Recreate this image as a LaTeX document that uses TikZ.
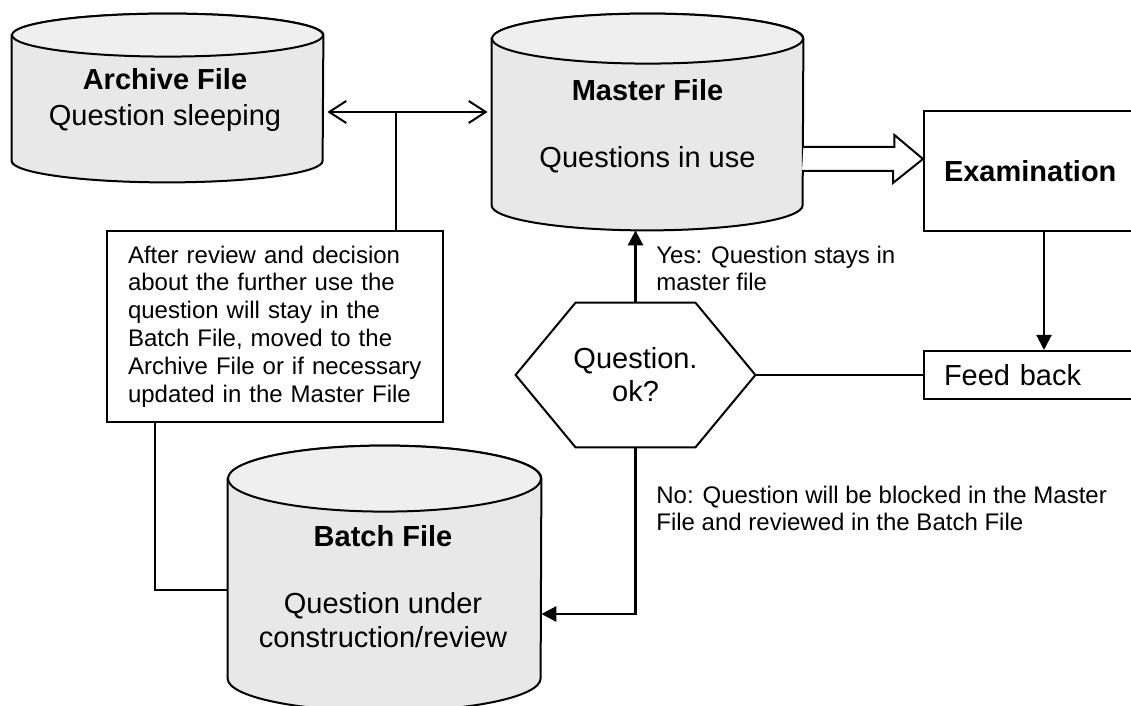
\documentclass[tikz,border=0pt]{standalone}
\usepackage{fontspec}
\setmainfont{Liberation Sans}
\usepackage{tikz}
\usetikzlibrary{arrows.meta}
\definecolor{drumgray}{HTML}{E8E8E8}
\definecolor{drumlid}{HTML}{EFEFEF}
\tikzset{
  drumnode/.style={rectangle,draw=none,inner sep=0pt},
  drum/.style={draw=black,line width=1pt,fill=drumgray},
  drumtop/.style={draw=black,line width=1pt,fill=drumlid},
  big/.style={font=\fontsize{14.5}{18}\selectfont,align=center},
  note/.style={font=\fontsize{12}{13.9}\selectfont,align=left},
  box/.style={draw=black,line width=1pt,fill=white},
  link/.style={line width=1pt},
  heavy/.style={line width=1.4pt},
  arr/.style={link,-{Triangle[length=7.5pt,width=7.5pt]}},
  openarr/.style={link,{Straight Barb[length=8.5pt,width=11pt]}-{Straight Barb[length=8.5pt,width=11pt]}},
  hollow/.style={line width=1pt,fill=white,line join=miter},
}
% #1 node, #2 x radius, #3 y radius
\newcommand{\drum}[3]{%
  \draw[drum] ([yshift=-#3]#1.north west) -- ([yshift=#3]#1.south west)
    arc[start angle=180,end angle=360,x radius=#2,y radius=#3]
    -- ([yshift=-#3]#1.north east)
    arc[start angle=0,end angle=180,x radius=#2,y radius=#3] -- cycle;
  \draw[drumtop] ([yshift=-#3]#1.north) ellipse[x radius=#2,y radius=#3];
}

\begin{document}
\begin{tikzpicture}[x=0.5pt,y=0.5pt]
  \useasboundingbox (0,0) rectangle (1131,706);
  % files
  \node[drumnode,minimum width=155.5pt,minimum height=84pt] (archive) at (167.5,608) {};
  \node[drumnode,minimum width=155.5pt,minimum height=108pt] (master) at (647.5,584) {};
  \node[drumnode,minimum width=156.5pt,minimum height=132.5pt] (batch) at (384.5,127.5) {};
  \drum{archive}{77.75pt}{10.75pt}
  \drum{master}{77.75pt}{12.5pt}
  \drum{batch}{78.25pt}{16.5pt}
  \node[big] (archive-txt) at (165,606) {\textbf{Archive File}\\Question sleeping};
  \node[big] (master-txt) at (647.5,579.5) {\textbf{Master File}\\[15.5pt]Questions in use};
  \node[big,font=\fontsize{14.5}{17}\selectfont] (batch-txt) at (383,119.5) {\textbf{Batch File}\\[16.5pt]Question under\\construction/review};

  \node[box,note,text width=147pt,inner xsep=10.5pt,minimum height=95.5pt] (review) at (275,379.5)
    {After review and decision\\about the further use the\\question will stay in the\\Batch File, moved to the\\Archive File or if necessary\\updated in the Master File};
  \node[box,big,align=left,text width=100pt,inner xsep=10pt,minimum height=60pt] (exam) at (1044,535) {\textbf{Examination}};
  \node[box,big,align=left,text width=100pt,inner xsep=10pt,minimum height=24pt] (fb) at (1044,331) {Feed back};

  % decision
  \node[drumnode,big,font=\fontsize{14.5}{16.5}\selectfont,minimum width=119.5pt,minimum height=72pt] (ok) at (635.5,331) {Question.\\ok?};
  \draw[link] (ok.west) -- ([xshift=30pt]ok.north west) -- ([xshift=-30pt]ok.north east) -- (ok.east)
    -- ([xshift=-30pt]ok.south east) -- ([xshift=30pt]ok.south west) -- cycle;

  % connectors
  \coordinate (jct) at (396,594);
  \draw[openarr,shorten <=2pt,shorten >=2pt] (archive.east |- jct) -- (master.west |- jct);
  \draw[link] (jct) -- (jct |- review.north);

  \path (master.east) ++(0,-37) coordinate (hfrom);
  \draw[hollow] (hfrom) ++(0,12) -- ++(91,0) -- ++(0,12) -- (hfrom -| exam.west)
    -- ++(-30,-24) -- ++(0,12) -- ++(-91,0);

  \draw[arr] (exam) -- (fb);
  \draw[link] (ok.east) -- (fb.west);

  \draw[arr,heavy] (ok.north) -- (ok.north |- master.south);
  \node[note,anchor=west,inner sep=0pt] (yes-lbl) at (656,437.5) {Yes: Question stays in\\master file};

  \coordinate (nobend) at (635.5,92);
  \draw[arr,heavy] (ok.south) -- (nobend) -- (nobend -| batch.east);
  \node[note,anchor=west,inner sep=0pt] (no-lbl) at (656,197.5) {No: Question will be blocked in the Master\\File and reviewed in the Batch File};

  \coordinate (revbend) at (155,116);
  \draw[link] (revbend |- review.south) -- (revbend) -- (revbend -| batch.west);
\end{tikzpicture}
\end{document}
